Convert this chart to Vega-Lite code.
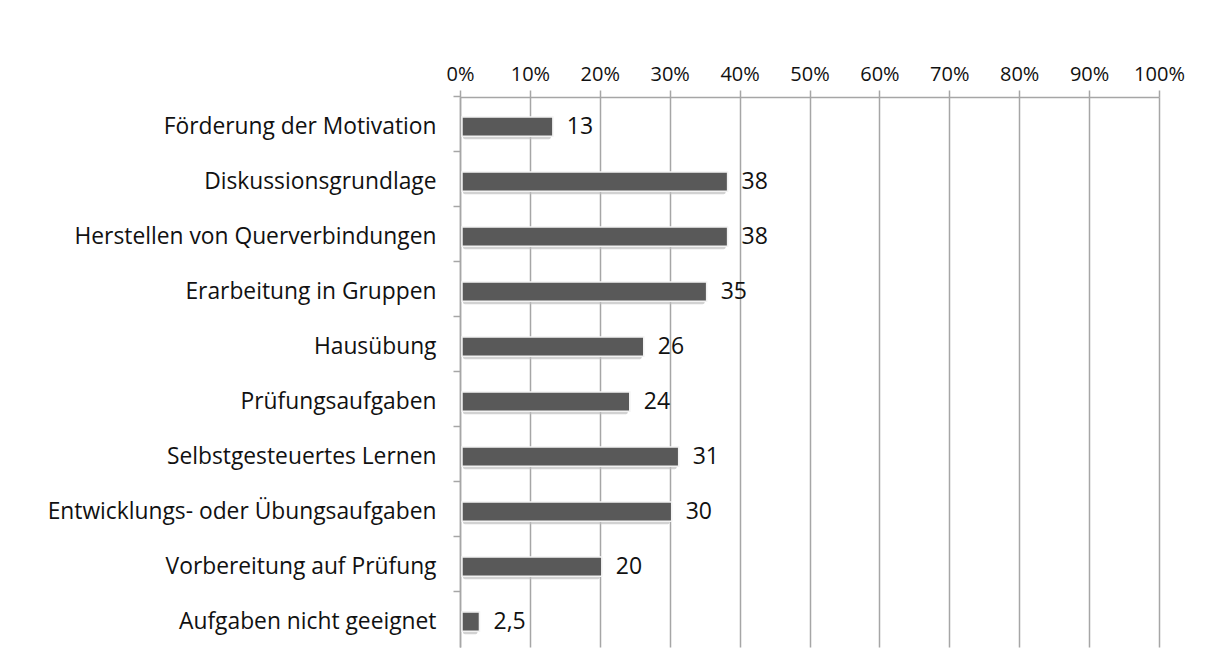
{
  "$schema": "https://vega.github.io/schema/vega-lite/v6.json",
  "autosize": "none",
  "width": 699,
  "height": 550,
  "padding": {"left": 460, "top": 97, "right": 47, "bottom": 19},
  "background": "white",
  "config": {"view": {"stroke": null}, "font": "Open Sans"},
  "data": {
    "values": [
      {"kategorie": "Förderung der Motivation", "wert": 13, "label": "13"},
      {"kategorie": "Diskussionsgrundlage", "wert": 38, "label": "38"},
      {"kategorie": "Herstellen von Querverbindungen", "wert": 38, "label": "38"},
      {"kategorie": "Erarbeitung in Gruppen", "wert": 35, "label": "35"},
      {"kategorie": "Hausübung", "wert": 26, "label": "26"},
      {"kategorie": "Prüfungsaufgaben", "wert": 24, "label": "24"},
      {"kategorie": "Selbstgesteuertes Lernen", "wert": 31, "label": "31"},
      {"kategorie": "Entwicklungs- oder Übungsaufgaben", "wert": 30, "label": "30"},
      {"kategorie": "Vorbereitung auf Prüfung", "wert": 20, "label": "20"},
      {"kategorie": "Aufgaben nicht geeignet", "wert": 2.5, "label": "2,5"}
    ]
  },
  "encoding": {
    "y": {
      "field": "kategorie",
      "type": "nominal",
      "sort": null,
      "scale": {"paddingInner": 0.65, "paddingOuter": 0.325},
      "axis": {
        "title": null,
        "bandPosition": -0.9286,
        "labelOffset": 2,
        "domainColor": "#a6a6a6",
        "domainWidth": 1.5,
        "tickColor": "#a6a6a6",
        "tickWidth": 1.5,
        "tickSize": 7,
        "labelFontSize": 22.8,
        "labelColor": "#111111",
        "labelPadding": 17,
        "labelFont": "Open Sans",
        "labelLimit": 500
      }
    },
    "x": {
      "field": "wert",
      "type": "quantitative",
      "scale": {"domain": [0, 100]},
      "axis": {
        "orient": "top",
        "title": null,
        "values": [0, 10, 20, 30, 40, 50, 60, 70, 80, 90, 100],
        "labelExpr": "datum.value + '%'",
        "labelOverlap": false,
        "labelFlush": false,
        "grid": true,
        "gridColor": "#a6a6a6",
        "gridWidth": 1.5,
        "domainColor": "#a6a6a6",
        "domainWidth": 1.5,
        "tickColor": "#a6a6a6",
        "tickWidth": 1.5,
        "tickSize": 7,
        "labelFontSize": 20,
        "labelColor": "#111111",
        "labelPadding": 6,
        "labelFont": "Open Sans"
      }
    }
  },
  "layer": [
    {
      "mark": {"type": "bar", "color": "#bfbfbf", "opacity": 0.7, "yOffset": 5, "x2Offset": 3, "cornerRadius": 2},
      "encoding": {"x2": {"datum": 0}}
    },
    {
      "mark": {"type": "bar", "color": "#595959", "stroke": "#f2f2f2", "strokeWidth": 1.5, "xOffset": 2, "yOffset": 2}
    },
    {
      "mark": {"type": "text", "align": "left", "baseline": "middle", "dx": 16, "dy": 2, "fontSize": 23, "color": "#111111", "font": "Open Sans"},
      "encoding": {"text": {"field": "label"}}
    }
  ]
}
